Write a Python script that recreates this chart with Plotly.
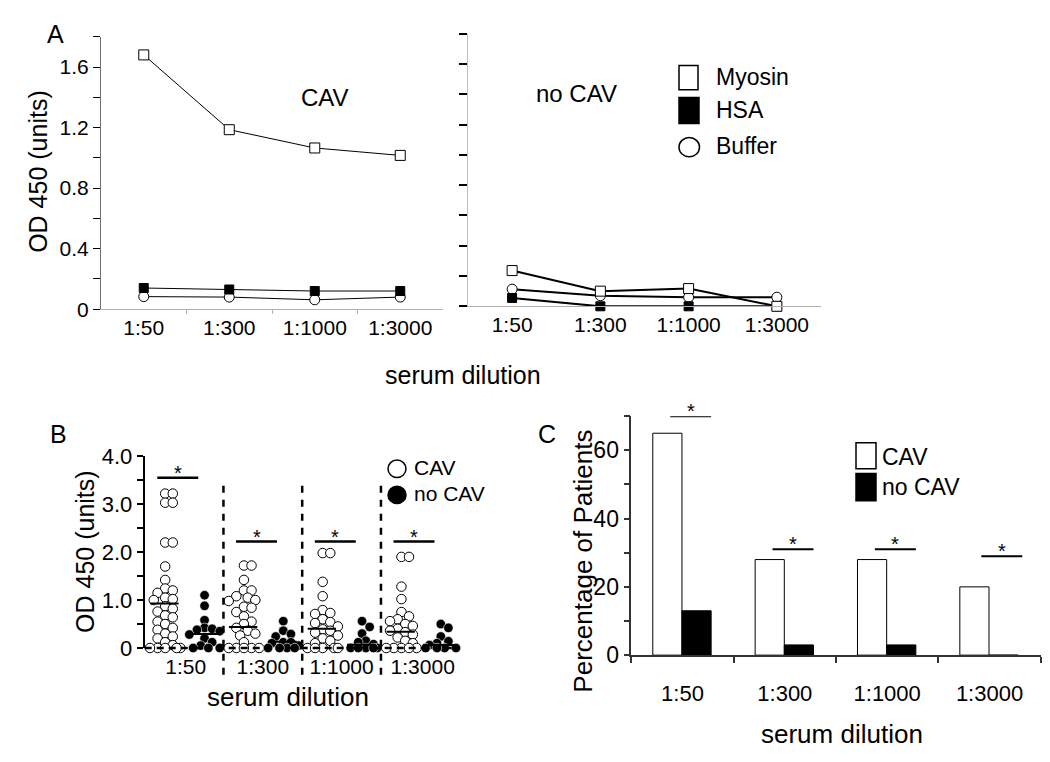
import plotly.graph_objects as go

# ---------------- data ----------------
dilutions = ["1:50", "1:300", "1:1000", "1:3000"]

# Panel A (OD 450)
cav_myosin = [1.68, 1.186, 1.065, 1.016]
cav_hsa = [0.14, 0.13, 0.12, 0.12]
cav_buffer = [0.083, 0.08, 0.062, 0.08]
nocav_myosin = [0.236, 0.10, 0.117, 0.0]
nocav_hsa = [0.055, 0.0, 0.0, 0.0]
nocav_buffer = [0.113, 0.07, 0.06, 0.06]

# Panel B (individual patients, OD 450)
b_cav = [
    [3.22, 3.22, 3.03, 3.03, 2.2, 2.2, 1.7, 1.42, 1.24, 1.2, 1.15, 1.05, 1.02, 1.0,
     0.87, 0.82, 0.76, 0.68, 0.64, 0.55, 0.5, 0.42, 0.38, 0.3, 0.24, 0.2, 0.12, 0.06,
     0, 0, 0, 0, 0],
    [1.72, 1.72, 1.42, 1.2, 1.2, 1.08, 1.05, 1.0, 0.98, 0.86, 0.84, 0.75, 0.66, 0.55,
     0.5, 0.42, 0.36, 0.3, 0.26, 0.12, 0, 0, 0, 0, 0],
    [1.98, 1.98, 1.38, 1.08, 0.79, 0.73, 0.71, 0.6, 0.54, 0.52, 0.45, 0.39, 0.36, 0.32,
     0.26, 0.2, 0.15, 0.1, 0, 0, 0, 0, 0],
    [1.9, 1.9, 1.28, 1.02, 0.75, 0.66, 0.6, 0.56, 0.5, 0.46, 0.4, 0.36, 0.33, 0.28,
     0.22, 0.15, 0.1, 0, 0, 0, 0, 0],
]
b_nocav = [
    [1.1, 0.88, 0.58, 0.42, 0.4, 0.38, 0.35, 0.28, 0.2, 0.12, 0.05, 0, 0, 0],
    [0.56, 0.36, 0.29, 0.24, 0.12, 0.12, 0.1, 0.05, 0, 0, 0, 0],
    [0.56, 0.44, 0.3, 0.15, 0.12, 0.08, 0, 0, 0, 0, 0],
    [0.5, 0.42, 0.24, 0.14, 0.1, 0.06, 0, 0, 0, 0],
]
b_cav_mean = [0.93, 0.44, 0.40, 0.34]
b_nocav_mean = [0.29, 0.13, 0.07, 0.06]
b_sig_height = [3.55, 2.22, 2.22, 2.22]

# Panel C (percentage of patients)
c_cav = [65, 28, 28, 20]
c_nocav = [13, 3, 3, 0]
c_sig_height = [70, 31, 31, 29]

# ---------------- layout helpers ----------------
W, H = 1050, 762
FONT = "Liberation Sans, Arial, sans-serif"


def px(x):
    return x / W


def py(y):
    return 1 - y / H


fig = go.Figure()

# ---------- Panel A ----------
xi = list(range(len(dilutions)))


def a_traces(xa, ya, myo, hsa, buf, lw):
    fig.add_trace(go.Scatter(x=xi, y=buf, xaxis=xa, yaxis=ya, mode="lines+markers",
                             line=dict(color="black", width=lw),
                             marker=dict(symbol="circle", size=10, color="white",
                                         line=dict(color="black", width=1)),
                             cliponaxis=False, showlegend=False))
    fig.add_trace(go.Scatter(x=xi, y=hsa, xaxis=xa, yaxis=ya, mode="lines+markers",
                             line=dict(color="black", width=lw),
                             marker=dict(symbol="square", size=9, color="black",
                                         line=dict(color="black", width=1)),
                             cliponaxis=False, showlegend=False))
    fig.add_trace(go.Scatter(x=xi, y=myo, xaxis=xa, yaxis=ya, mode="lines+markers",
                             line=dict(color="black", width=lw),
                             marker=dict(symbol="square", size=10, color="white",
                                         line=dict(color="black", width=1)),
                             cliponaxis=False, showlegend=False))


a_traces("x", "y", cav_myosin, cav_hsa, cav_buffer, 1)
a_traces("x2", "y2", nocav_myosin, nocav_hsa, nocav_buffer, 2)

# ---------- Panel B ----------
B_XPX = (451.7 - 136.7) / 4.0   # px per category unit
B_YPX = (649.3 - 451.0) / 4.0   # px per OD unit
DIAM = 9.5


def swarm(values, center):
    placed = []
    xs = [0.0] * len(values)
    order = sorted(range(len(values)), key=lambda i: -values[i])
    for i in order:
        yv = values[i] * B_YPX
        best = None
        bestgap = -1
        for k in range(0, 10):
            for sgn in ([0] if k == 0 else [1, -1]):
                dx = sgn * k * 3.8
                if not placed:
                    gap = 99
                else:
                    gap = min(((dx - a) ** 2 + (yv - b) ** 2) ** 0.5 for a, b in placed)
                if gap >= 7.6:
                    best = dx
                    break
                if gap > bestgap and abs(dx) <= 16:
                    bestgap, fallback = gap, dx
            if best is not None:
                break
        if best is None or abs(best) > 16:
            best = fallback
        placed.append((best, yv))
        xs[i] = center + best / B_XPX
    return xs


CAV_OFF, NOCAV_OFF = -0.24, 0.26
for g in range(len(dilutions)):
    xs = swarm(b_cav[g], g + CAV_OFF)
    fig.add_trace(go.Scatter(x=xs, y=b_cav[g], xaxis="x3", yaxis="y3", mode="markers",
                             marker=dict(symbol="circle", size=DIAM, color="white",
                                         line=dict(color="black", width=1)),
                             cliponaxis=False, showlegend=False))
    xs = swarm(b_nocav[g], g + NOCAV_OFF)
    fig.add_trace(go.Scatter(x=xs, y=b_nocav[g], xaxis="x3", yaxis="y3", mode="markers",
                             marker=dict(symbol="circle", size=DIAM, color="black",
                                         line=dict(color="white", width=0.6)),
                             cliponaxis=False, showlegend=False))
    for off, m in ((CAV_OFF, b_cav_mean[g]), (NOCAV_OFF, b_nocav_mean[g])):
        fig.add_trace(go.Scatter(x=[g + off - 0.19, g + off + 0.17], y=[m, m],
                                 xaxis="x3", yaxis="y3", mode="lines",
                                 line=dict(color="black", width=2), showlegend=False))
    # significance bar
    fig.add_trace(go.Scatter(x=[g - 0.34, g + 0.18], y=[b_sig_height[g]] * 2,
                             xaxis="x3", yaxis="y3", mode="lines",
                             line=dict(color="black", width=2.5), showlegend=False))
    fig.add_annotation(x=g - 0.08, y=b_sig_height[g], xref="x3", yref="y3", text="*",
                       showarrow=False, yanchor="bottom", yshift=-8,
                       font=dict(size=20, color="black", family=FONT))

# separators and dashed baseline for B
for s in (0.5, 1.5, 2.5):
    fig.add_shape(type="line", xref="x3", yref="y3 domain", x0=s, x1=s,
                  y0=-0.14, y1=3.4 / 4.0,
                  line=dict(color="black", width=2.5, dash="7px,7px"))
fig.add_shape(type="line", xref="x3 domain", yref="y3 domain", x0=0, x1=1, y0=0, y1=0,
              line=dict(color="black", width=2.5, dash="7px,5px"))

# ---------- Panel C ----------
fig.add_trace(go.Bar(x=xi, y=c_cav, xaxis="x4", yaxis="y4", marker=dict(color="white",
                     line=dict(color="black", width=1)), showlegend=False,
                     offset=-0.29, width=0.285))
fig.add_trace(go.Bar(x=xi, y=c_nocav, xaxis="x4", yaxis="y4", marker=dict(color="black",
                     line=dict(color="black", width=1)), showlegend=False,
                     offset=-0.005, width=0.285))
for g in range(len(dilutions)):
    shift = 0.04 if g == 3 else 0.0
    fig.add_trace(go.Scatter(x=[g - 0.12 + shift, g + 0.28 + shift], y=[c_sig_height[g]] * 2,
                             xaxis="x4", yaxis="y4", mode="lines",
                             line=dict(color="black", width=2), showlegend=False,
                             cliponaxis=False))
    fig.add_annotation(x=g + 0.08 + shift, y=c_sig_height[g], xref="x4", yref="y4", text="*",
                       showarrow=False, yanchor="bottom", yshift=-8,
                       font=dict(size=20, color="black", family=FONT))

# ---------------- axes ----------------
tick_font = dict(family=FONT, size=21, color="black")

a_yvals = [round(0.2 * i, 1) for i in range(10)]
a_ytext = ["0" if v == 0 else ("%.1f" % v if i % 2 == 0 else "") for i, v in enumerate(a_yvals)]

common_x = dict(range=[-0.5, 3.5], tickmode="array", tickvals=xi, ticktext=dilutions,
                ticks="", showgrid=False, zeroline=False, tickfont=tick_font)

fig.update_layout(
    width=W, height=H, margin=dict(l=0, r=0, t=0, b=0),
    plot_bgcolor="white", paper_bgcolor="white",
    font=dict(family=FONT, color="black"),
    bargap=0.43,
    xaxis=dict(domain=[px(93), px(435)], anchor="y", showline=True, linecolor="#b0b0b0",
               linewidth=1,
               minor=dict(tickmode="array", tickvals=[0.5, 1.5, 2.5], ticks="outside",
                          ticklen=4, tickcolor="#b0b0b0"),
               **common_x),
    yaxis=dict(domain=[py(299), py(17.3)], anchor="x", range=[0, 1.8], tickmode="array",
               tickvals=a_yvals, ticktext=a_ytext, ticks="outside", ticklen=7,
               tickcolor="black", showline=True, linecolor="#707070", linewidth=1,
               showgrid=False, zeroline=False, tickfont=tick_font),
    xaxis2=dict(domain=[px(460), px(813)], anchor="y2", showline=True, linecolor="#b0b0b0",
                linewidth=1, **common_x),
    yaxis2=dict(domain=[py(296), py(14.3)], anchor="x2", range=[0, 1.8], tickmode="array",
                tickvals=a_yvals, ticktext=[""] * len(a_yvals), ticks="outside", ticklen=8,
                tickwidth=1.5, tickcolor="black", showline=True, linecolor="#c0c0c0",
                linewidth=1, showgrid=False, zeroline=False),
    xaxis3=dict(domain=[px(136.7), px(451.7)], anchor="y3", showline=False,
                range=[-0.5, 3.5], tickmode="array", tickvals=[0.02, 1.0, 2.0, 3.03],
                ticktext=dilutions, ticks="", showgrid=False, zeroline=False,
                tickfont=dict(family=FONT, size=21, color="black"), ticklabelstandoff=4),
    yaxis3=dict(domain=[py(649.3), py(451.0)], anchor="x3", range=[0, 4.0], tickmode="array",
                tickvals=[0.5 * i for i in range(9)],
                ticktext=["0", "", "1.0", "", "2.0", "", "3.0", "", "4.0"],
                ticks="outside", ticklen=6, tickwidth=2, tickcolor="black",
                showline=True, linecolor="black", linewidth=2, showgrid=False,
                zeroline=False, tickfont=dict(family=FONT, size=22, color="black")),
    xaxis4=dict(domain=[px(623.3), px(1032.7)], anchor="y4", showline=True,
                linecolor="#333333", linewidth=1.5, range=[-0.5, 3.5], tickmode="array",
                tickvals=xi, ticktext=dilutions, ticks="", showgrid=False, zeroline=False,
                tickfont=dict(family=FONT, size=22, color="black"), ticklabelstandoff=18,
                minor=dict(tickmode="array", tickvals=[-0.5, 0.5, 1.5, 2.5, 3.5],
                           ticks="outside", ticklen=6, tickcolor="#333333", tickwidth=1.5)),
    yaxis4=dict(domain=[py(656.7), py(409.6)], anchor="x4", range=[0, 70], tickmode="array",
                tickvals=[10 * i for i in range(8)],
                ticktext=["0", "", "20", "", "40", "", "60", ""],
                ticks="outside", ticklen=6, tickwidth=1.5, tickcolor="#333333",
                showline=True, linecolor="#333333", linewidth=1.5, showgrid=False,
                zeroline=False, tickfont=dict(family=FONT, size=23, color="black")),
)


def text(x, y, s, size, angle=0, anchor="center"):
    fig.add_annotation(x=px(x), y=py(y), xref="paper", yref="paper", text=s,
                       showarrow=False, textangle=angle, xanchor=anchor, yanchor="middle",
                       font=dict(family=FONT, size=size, color="black"))


# panel letters
text(47, 14, "A", 25)
text(50, 428, "B", 25)
text(539, 428, "C", 25)

# axis titles
text(30, 157, "OD 450 (units)", 25, -90)
text(455, 367, "serum dilution", 25)
text(77, 550, "OD 450 (units)", 25, -90)
text(280, 700, "serum dilution", 26)
text(575, 560, "Percentage of Patients", 26, -90)
text(834, 738, "serum dilution", 26)

# panel A in-plot labels
text(317, 80, "CAV", 24)
text(568, 76, "no CAV", 24)

# panel A legend
fig.add_shape(type="rect", xref="paper", yref="paper", x0=px(671), x1=px(690),
              y0=py(72), y1=py(47), line=dict(color="black", width=1.5), fillcolor="white")
fig.add_shape(type="rect", xref="paper", yref="paper", x0=px(671), x1=px(691),
              y0=py(107), y1=py(80), line=dict(color="black", width=1.5), fillcolor="black")
fig.add_shape(type="circle", xref="paper", yref="paper", x0=px(671), x1=px(691.5),
              y0=py(141.5), y1=py(121.5), line=dict(color="black", width=1.5),
              fillcolor="white")
text(706, 59, "Myosin", 23, anchor="left")
text(706, 93, "HSA", 23, anchor="left")
text(706, 130, "Buffer", 23, anchor="left")

# panel B legend
fig.add_shape(type="circle", xref="paper", yref="paper", x0=px(380), x1=px(398),
              y0=py(473), y1=py(455), line=dict(color="black", width=1.5), fillcolor="white")
fig.add_shape(type="circle", xref="paper", yref="paper", x0=px(380), x1=px(398),
              y0=py(500), y1=py(482), line=dict(color="black", width=1.5), fillcolor="black")
text(404, 463, "CAV", 21, anchor="left")
text(404, 490, "no CAV", 21, anchor="left")

# panel C legend
fig.add_shape(type="rect", xref="paper", yref="paper", x0=px(848), x1=px(868),
              y0=py(464), y1=py(437), line=dict(color="black", width=1.5), fillcolor="white")
fig.add_shape(type="rect", xref="paper", yref="paper", x0=px(848), x1=px(868),
              y0=py(497), y1=py(469), line=dict(color="black", width=1.5), fillcolor="black")
text(872, 452, "CAV", 23, anchor="left")
text(872, 483, "no CAV", 23, anchor="left")

fig.write_html("out.html")
